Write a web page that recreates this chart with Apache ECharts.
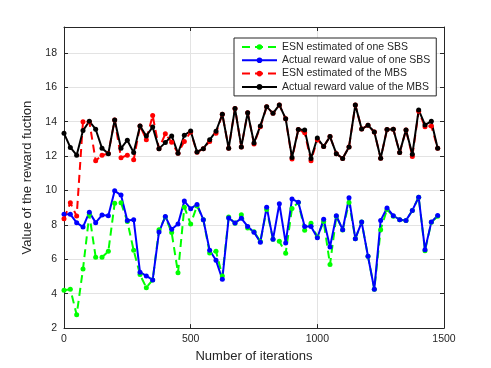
<!DOCTYPE html>
<html>
<head>
<meta charset="utf-8">
<title>reward</title>
<script src="https://cdn.jsdelivr.net/npm/echarts@6/dist/echarts.min.js"></script>
<style>
  html,body{margin:0;padding:0;background:#fff;}
  #main{width:491px;height:368px;}
</style>
</head>
<body>
<div id="main"></div>
<script>
// 迭代次数
var iterations = [0,25,50,75,100,125,150,175,200,225,250,275,300,325,350,375,400,425,450,475,
  500,525,550,575,600,625,650,675,700,725,750,775,800,825,850,875,900,925,950,975,
  1000,1025,1050,1075,1100,1125,1150,1175,1200,1225,1250,1275,1300,1325,1350,1375,1400,1425,1450,1475];

var xTicks = [0,500,1000,1500];
var yTicks = [2,4,6,8,10,12,14,16,18];

var seriesNames = ['ESN estimated of one SBS','Actual reward value of one SBS','ESN estimated of the MBS','Actual reward value of the MBS'];

// SBS
var sbsEstimated = [4.2,4.26,2.77,5.44,8.6,6.12,6.12,6.46,9.25,9.29,8.2,6.52,5.11,4.35,4.8,7.72,8.45,7.55,5.21,9.03,
  8.05,9.1,8.3,6.37,6.46,5.03,8.45,8.1,8.59,7.82,7.6,7.04,8.9,7.16,7.05,6.35,8.95,9.3,7.68,8.1,
  7.3,8.2,5.69,8.5,7.7,9.3,7.2,8.16,6.17,4.26,7.72,8.9,8.5,8.3,8.26,8.84,9.61,6.5,8.15,8.5];
var sbsActual = [8.61,8.61,8.13,7.87,8.74,8.13,8.57,8.53,9.98,9.73,8.26,8.3,5.25,5.03,4.8,7.58,8.49,7.74,8.05,9.38,
  8.94,9.19,8.3,6.52,5.94,4.84,8.4,8.11,8.38,7.91,7.57,6.99,9.03,7.16,9.23,6.95,9.5,9.32,7.91,7.91,
  7.25,8.32,6.71,8.53,7.72,9.57,7.2,8.16,6.17,4.26,8.26,8.98,8.53,8.3,8.26,8.84,9.61,6.56,8.16,8.55];

// MBS
var mbsEstimated = [8.36,9.28,8.51,14.0,14.0,11.72,12.05,12.15,14.1,11.9,12.05,11.78,13.75,12.95,14.35,12.43,13.3,12.8,12.16,12.85,
  13.4,12.22,12.43,12.85,13.32,14.43,12.45,14.77,12.53,14.52,12.7,13.7,14.87,14.48,14.97,14.17,11.83,13.54,13.35,11.72,
  12.95,12.55,13.13,12.14,11.86,12.53,14.97,13.57,13.79,13.4,11.87,13.54,13.56,12.2,13.52,11.98,14.6,13.7,13.75,12.45];
var mbsActual = [13.32,12.5,12.05,13.48,14.02,13.56,12.45,12.14,14.1,12.45,12.92,12.2,13.75,13.17,13.69,12.43,12.78,13.17,12.16,13.21,
  13.46,12.24,12.43,12.94,13.44,14.43,12.45,14.77,12.53,14.52,12.76,13.75,14.87,14.48,14.97,14.17,11.91,13.54,13.52,11.86,
  13.05,12.55,13.13,12.14,11.86,12.53,14.97,13.57,13.79,13.4,11.87,13.54,13.56,12.2,13.52,12.1,14.68,13.81,14.02,12.45];

var axisColor = '#262626';
var fontFamily = '"Liberation Sans", Arial, sans-serif';

function pairs(values){
  return iterations.map(function(x,i){ return [x, values[i]]; });
}

function makeLine(name, values, color, dashed){
  return {
    name: name,
    type: 'line',
    data: pairs(values),
    symbol: 'circle',
    symbolSize: 5,
    color: color,
    lineStyle: { color: color, width: 2, type: dashed ? [8,5] : 'solid' },
    itemStyle: { color: color },
    animation: false
  };
}

var myChart = echarts.init(document.getElementById('main'), null, {renderer:'canvas'});

var baseX = {
  type: 'value',
  min: xTicks[0],
  max: xTicks[xTicks.length-1],
  interval: 500,
  axisLine: { show: true, onZero: false, lineStyle: { color: axisColor, width: 1 } },
  axisTick: { show: true, inside: true, length: 4, lineStyle: { color: axisColor } }
};
var baseY = {
  type: 'value',
  min: yTicks[0],
  max: 19.5,
  interval: 2,
  axisLine: { show: true, onZero: false, lineStyle: { color: axisColor, width: 1 } },
  axisTick: { show: true, inside: true, length: 4, lineStyle: { color: axisColor } }
};

var option = {
  backgroundColor: '#fff',
  textStyle: { fontFamily: fontFamily },
  grid: { left: 64, right: 47, top: 27, bottom: 39, containLabel: false },
  legend: {
    data: seriesNames,
    orient: 'vertical',
    left: 234,
    top: 38,
    itemWidth: 35,
    itemHeight: 7,
    itemGap: 1.3,
    padding: [3, 6, 3, 7],
    backgroundColor: '#fff',
    borderColor: axisColor,
    borderWidth: 1,
    borderRadius: 0,
    textStyle: { color: axisColor, fontSize: 10.5, fontFamily: fontFamily, lineHeight: 12 }
  },
  xAxis: [
    Object.assign({}, baseX, {
      position: 'bottom',
      name: 'Number of iterations',
      nameLocation: 'middle',
      nameGap: 21,
      nameTextStyle: { color: axisColor, fontSize: 13, fontFamily: fontFamily },
      axisLabel: { color: axisColor, fontSize: 10.5, margin: 6, fontFamily: fontFamily,
        formatter: function(v){ return String(v); } },
      splitLine: { show: true, lineStyle: { color: '#e3e3e3', width: 1 } }
    }),
    Object.assign({}, baseX, {
      position: 'top',
      axisLabel: { show: false },
      splitLine: { show: false }
    })
  ],
  yAxis: [
    Object.assign({}, baseY, {
      position: 'left',
      name: 'Value of the reward fuction',
      nameLocation: 'middle',
      nameGap: 22,
      nameTextStyle: { color: axisColor, fontSize: 13, fontFamily: fontFamily },
      axisLabel: { color: axisColor, fontSize: 10.5, margin: 7, showMaxLabel: false, fontFamily: fontFamily,
        formatter: function(v){ return yTicks.indexOf(v) >= 0 ? String(v) : ''; } },
      splitLine: { show: true, lineStyle: { color: '#e3e3e3', width: 1 } }
    }),
    Object.assign({}, baseY, {
      position: 'right',
      axisLabel: { show: false },
      splitLine: { show: false }
    })
  ],
  series: [
    makeLine(seriesNames[0], sbsEstimated, '#00ff00', true),
    makeLine(seriesNames[1], sbsActual, '#0000ff', false),
    makeLine(seriesNames[2], mbsEstimated, '#ff0000', true),
    makeLine(seriesNames[3], mbsActual, '#000000', false)
  ]
};
myChart.setOption(option);
</script>
</body>
</html>
